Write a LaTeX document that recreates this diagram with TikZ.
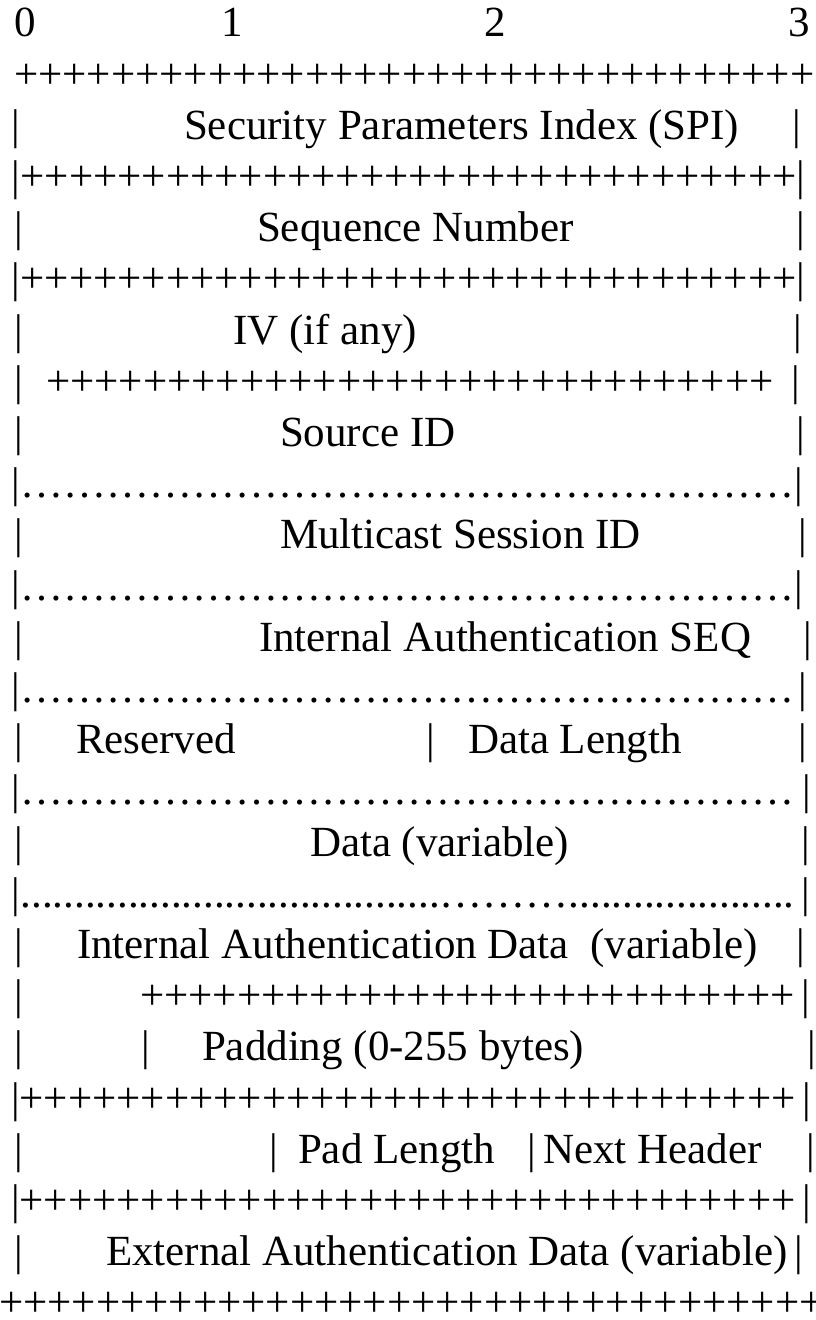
\documentclass[tikz,border=0pt]{standalone}
\usepackage{fontspec}
\setmainfont{Liberation Serif}
\newcommand\PL[1]{\foreach\k in {1,...,#1}{+}}
\newcommand\EL[1]{\foreach\k in {1,...,#1}{…}}
\newcommand\DT[1]{\foreach\k in {1,...,#1}{.}}
\tikzset{txt/.style={anchor=base west,inner sep=0pt,outer sep=0pt,font=\fontsize{43}{51}\selectfont}}
\begin{document}
\begin{tikzpicture}[x=1pt,y=-1pt]
\useasboundingbox (0,0) rectangle (816,1320);
% row 1 (baseline 36.8 + (i-1)*51.2)
\node[txt] (n0) at (14,36.8) {0};
\node[txt] (n1) at (221,36.8) {1};
\node[txt] (n2) at (484,36.8) {2};
\node[txt] (n3) at (788,36.8) {3};
% row 2
\node[txt] (p2) at (14,88) {\PL{33}};
% row 3
\node[txt] (l3) at (12,139.2) {|};
\node[txt] (spi) at (184,139.2) {Security Parameters Index (SPI)};
\node[txt] (r3) at (792,139.2) {|};
% row 4
\node[txt] (p4) at (12,190.4) {|\PL{32}|};
% row 5
\node[txt] (l5) at (14,241.6) {|};
\node[txt] (seq) at (257,241.6) {Sequence Number};
\node[txt] (r5) at (796,241.6) {|};
% row 6
\node[txt] (p6) at (12,292.8) {|\PL{32}|};
% row 7
\node[txt] (l7) at (14,344) {|};
\node[txt] (iv) at (233,344) {IV (if any)};
\node[txt] (r7) at (793,344) {|};
% row 8
\node[txt] (l8) at (14,395.2) {|};
\node[txt] (p8) at (46,395.2) {\PL{30}};
\node[txt] (r8) at (791,395.2) {|};
% row 9
\node[txt] (l9) at (14,446.4) {|};
\node[txt] (sid) at (280,446.4) {Source ID};
\node[txt] (r9) at (796,446.4) {|};
% row 10
\node[txt] (d10) at (12,497.6) {|\EL{18}|};
% row 11
\node[txt] (l11) at (14,548.8) {|};
\node[txt] (msid) at (280,548.8) {Multicast Session ID};
\node[txt] (r11) at (798,548.8) {|};
% row 12
\node[txt] (d12) at (12,600) {|\EL{18}|};
% row 13
\node[txt] (l13) at (14,651.2) {|};
\node[txt] (ias) at (259,651.2) {Internal Authentication SEQ};
\node[txt] (r13) at (803,651.2) {|};
% row 14
\node[txt] (d14) at (12,702.4) {|\EL{18}};
\node[txt] (r14) at (798,702.4) {|};
% row 15
\node[txt] (l15) at (14,753.6) {|};
\node[txt] (res) at (76,753.6) {Reserved};
\node[txt] (m15) at (426,753.6) {|};
\node[txt] (dl) at (468,753.6) {Data Length};
\node[txt] (r15) at (798,753.6) {|};
% row 16
\node[txt] (d16) at (12,804.8) {|\EL{18}};
\node[txt] (r16) at (802,804.8) {|};
% row 17
\node[txt] (l17) at (14,856) {|};
\node[txt] (dv) at (310,856) {Data (variable)};
\node[txt] (r17) at (801,856) {|};
% row 18
\node[txt] (d18) at (12,907.2) {|\DT{39}\EL{3}\DT{21}};
\node[txt] (r18) at (801,907.2) {|};
% row 19
\node[txt] (l19) at (14,958.4) {|};
\node[txt] (iad) at (77,958.4) {Internal Authentication Data~~(variable)};
\node[txt] (r19) at (796,958.4) {|};
% row 20
\node[txt] (l20) at (14,1009.6) {|};
\node[txt] (p20) at (140,1009.6) {\PL{27}};
\node[txt] (r20) at (801,1009.6) {|};
% row 21
\node[txt] (l21) at (14,1060.8) {|};
\node[txt] (m21) at (141,1060.8) {|};
\node[txt] (pad) at (202,1060.8) {Padding (0-255 bytes)};
\node[txt] (r21) at (807,1060.8) {|};
% row 22
\node[txt] (p22) at (11,1112) {|\PL{32}};
\node[txt] (r22) at (802,1112) {|};
% row 23
\node[txt] (l23) at (14,1163.2) {|};
\node[txt] (m23a) at (269,1163.2) {|};
\node[txt] (pl) at (298,1163.2) {Pad Length};
\node[txt] (m23b) at (527,1163.2) {|};
\node[txt] (nh) at (543,1163.2) {Next Header};
\node[txt] (r23) at (806,1163.2) {|};
% row 24
\node[txt] (p24) at (11,1214.4) {|\PL{32}};
\node[txt] (r24) at (802,1214.4) {|};
% row 25
\node[txt] (l25) at (14,1265.6) {|};
\node[txt] (ead) at (106,1265.6) {External Authentication Data (variable)};
\node[txt] (r25) at (794,1265.6) {|};
% row 26
\node[txt] (p26) at (-1,1316.8) {\PL{34}};
\end{tikzpicture}
\end{document}
